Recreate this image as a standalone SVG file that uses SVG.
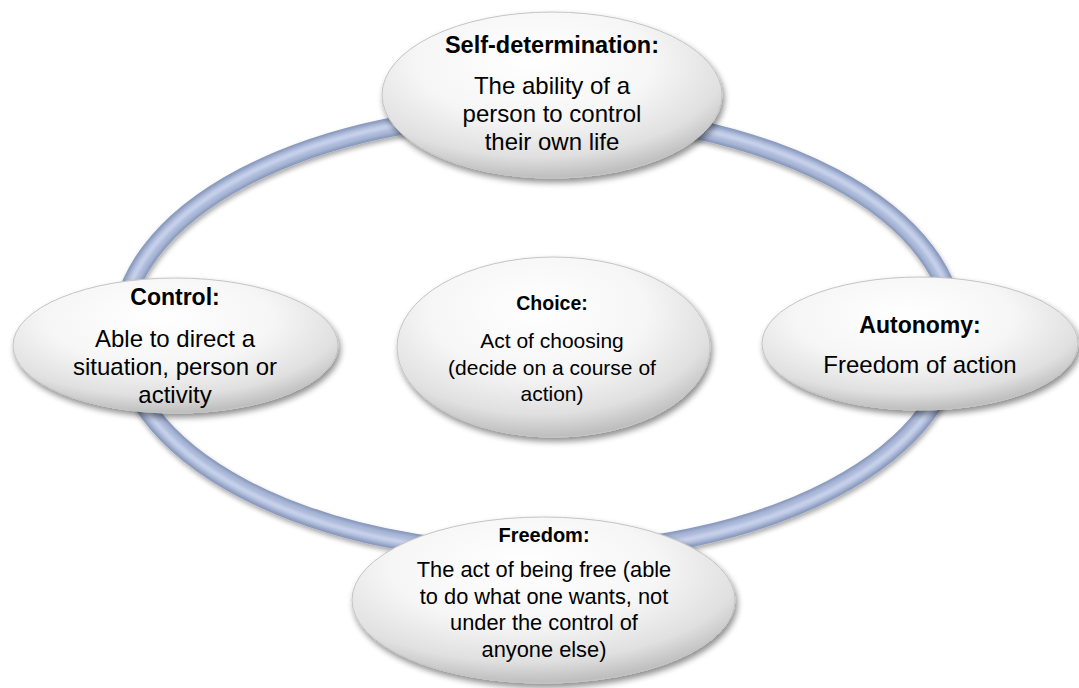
<svg xmlns="http://www.w3.org/2000/svg" width="1079" height="688" viewBox="0 0 1079 688">
<defs>
<radialGradient id="nodeFill" cx="0.45" cy="0.32" r="0.7" fx="0.45" fy="0.28">
<stop offset="0" stop-color="#ffffff"/>
<stop offset="0.5" stop-color="#f6f6f6"/>
<stop offset="0.8" stop-color="#e0e0e0"/>
<stop offset="1" stop-color="#b8b8b8"/>
</radialGradient>
<filter id="nodeShadow" x="-10%" y="-10%" width="125%" height="130%">
<feGaussianBlur in="SourceAlpha" stdDeviation="3"/>
<feOffset dx="2" dy="4" result="b"/>
<feComponentTransfer><feFuncA type="linear" slope="0.45"/></feComponentTransfer>
<feMerge><feMergeNode/><feMergeNode in="SourceGraphic"/></feMerge>
</filter>
<filter id="ringShadow" x="-5%" y="-5%" width="110%" height="115%">
<feGaussianBlur in="SourceAlpha" stdDeviation="2.5"/>
<feOffset dx="1" dy="3" result="b"/>
<feComponentTransfer><feFuncA type="linear" slope="0.35"/></feComponentTransfer>
<feMerge><feMergeNode/><feMergeNode in="SourceGraphic"/></feMerge>
</filter>
<filter id="soft" x="-5%" y="-5%" width="110%" height="110%">
<feGaussianBlur stdDeviation="1.6"/>
</filter>
</defs>
<style>
.node{fill:url(#nodeFill);stroke:#c4c4c4;stroke-width:1;filter:url(#nodeShadow)}
.t{font-family:"Liberation Sans",Arial,sans-serif;fill:#000;text-anchor:middle}
.b{font-weight:bold}
</style>
<rect width="1079" height="688" fill="#ffffff"/>
<g id="connectors">
<g id="ring" filter="url(#ringShadow)">
<ellipse cx="538" cy="333" rx="417" ry="220" fill="none" stroke="#8797ba" stroke-width="19"/>
<ellipse cx="538" cy="333" rx="417" ry="220" fill="none" stroke="#aab8d8" stroke-width="14" filter="url(#soft)"/>
<ellipse cx="538" cy="333" rx="418" ry="221" fill="none" stroke="#c8d2ec" stroke-width="5" filter="url(#soft)"/>
</g>
</g>
<g id="node-self-determination">
<ellipse class="node" cx="552" cy="95" rx="170" ry="83"/>
<text class="t b" x="552" y="53" font-size="23.5">Self-determination:</text>
<text class="t" x="552" font-size="24"><tspan x="552" y="94">The ability of a</tspan><tspan x="552" y="122">person to control</tspan><tspan x="552" y="149.5">their own life</tspan></text>
</g>
<g id="node-control">
<ellipse class="node" cx="175.5" cy="345.5" rx="162.5" ry="67.5"/>
<text class="t b" x="175" y="305" font-size="23">Control:</text>
<text class="t" font-size="24"><tspan x="175" y="347">Able to direct a</tspan><tspan x="175" y="375">situation, person or</tspan><tspan x="175" y="403">activity</tspan></text>
</g>
<g id="node-autonomy">
<ellipse class="node" cx="920" cy="343.5" rx="158" ry="66.5"/>
<text class="t b" x="920" y="333" font-size="23">Autonomy:</text>
<text class="t" x="920" y="373" font-size="24">Freedom of action</text>
</g>
<g id="node-choice">
<ellipse class="node" cx="553.5" cy="347" rx="156.5" ry="90"/>
<text class="t b" x="552" y="310" font-size="19.5">Choice:</text>
<text class="t" font-size="21"><tspan x="552" y="348">Act of choosing</tspan><tspan x="552" y="375">(decide on a course of</tspan><tspan x="552" y="400.5">action)</tspan></text>
</g>
<g id="node-freedom">
<ellipse class="node" cx="543.5" cy="600" rx="191.5" ry="83"/>
<text class="t b" x="544" y="542" font-size="20">Freedom:</text>
<text class="t" font-size="21.8"><tspan x="544" y="577">The act of being free (able</tspan><tspan x="544" y="603.5">to do what one wants, not</tspan><tspan x="544" y="630">under the control of</tspan><tspan x="544" y="657">anyone else)</tspan></text>
</g>
</svg>
